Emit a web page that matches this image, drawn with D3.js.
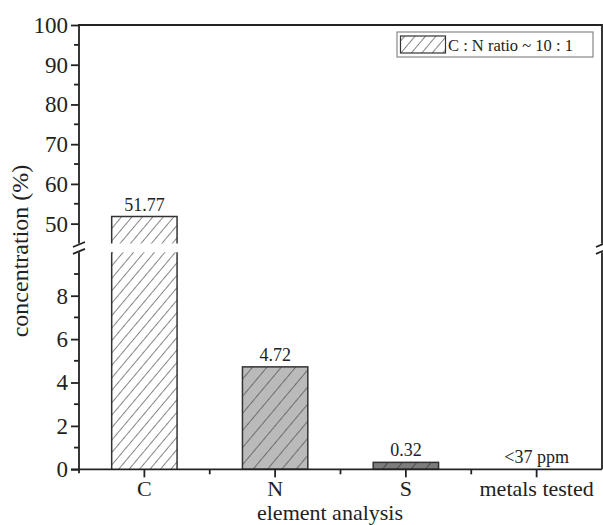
<!DOCTYPE html>
<html>
<head>
<meta charset="utf-8">
<script src="https://cdn.jsdelivr.net/npm/d3@7"></script>
<style>
  body { margin: 0; background: #fff; }
  svg text { font-family: "Liberation Serif", "Times New Roman", serif; fill: #222; }
</style>
</head>
<body>
<div id="chart"></div>
<script>
// data
const categories = ["C", "N", "S", "metals tested"];
const values = [51.77, 4.72, 0.32, null];
const valueLabels = ["51.77", "4.72", "0.32", "<37 ppm"];
const upperTicks = [50, 60, 70, 80, 90, 100];
const upperMinor = [55, 65, 75, 85, 95];
const lowerTicks = [0, 2, 4, 6, 8];
const lowerMinor = [1, 3, 5, 7, 9];
const legendLabel = "C : N ratio ~ 10 : 1";

const width = 603, height = 525;
const plotLeft = 79, plotRight = 602, plotTop = 25, plotBottom = 469.3;
const breakLo = 252.3, breakHi = 243.5;
const ink = "#222";
const serif = "'Liberation Serif', 'Times New Roman', serif";

const svg = d3.select("#chart").append("svg")
    .attr("width", width)
    .attr("height", height)
    .attr("font-family", serif);

// hatch patterns: C white, N light grey, S dark grey
const hatches = [
    { id: "hC", bg: "#fff", line: "#444", gap: 8 },
    { id: "hN", bg: "#bababa", line: "#444", gap: 11 },
    { id: "hS", bg: "#7c7c7c", line: "#333", gap: 11 }
];
const defs = svg.append("defs");
hatches.forEach(h => {
    const p = defs.append("pattern")
        .attr("id", h.id)
        .attr("patternUnits", "userSpaceOnUse")
        .attr("width", h.gap)
        .attr("height", h.gap)
        .attr("patternTransform", "rotate(40)");
    p.append("rect").attr("width", h.gap).attr("height", h.gap).attr("fill", h.bg);
    p.append("line").attr("x1", 0).attr("y1", 0).attr("x2", 0).attr("y2", h.gap)
        .attr("stroke", h.line).attr("stroke-width", 1.3);
});

// scales
const x = d3.scaleBand().domain(categories).range([plotLeft, plotRight]).padding(0);
const yUp = d3.scaleLinear().domain([45, 100]).range([breakHi, plotTop]);
const yLo = d3.scaleLinear().domain([0, 10]).range([plotBottom, breakLo]);
const barW = x.bandwidth() * 0.5;

// bars
values.forEach((v, i) => {
    if (v == null) return;
    const cx = x(categories[i]) + x.bandwidth() / 2;
    const x0 = cx - barW / 2, x1 = cx + barW / 2;
    const fill = `url(#${hatches[i].id})`;
    if (v <= 10) {
        svg.append("rect")
            .attr("x", x0).attr("y", yLo(v))
            .attr("width", barW).attr("height", yLo(0) - yLo(v))
            .attr("fill", fill).attr("stroke", "#333").attr("stroke-width", 1.5);
    } else {
        // lower part up to the break, upper part from the break to the value
        svg.append("rect")
            .attr("x", x0).attr("y", yLo(10))
            .attr("width", barW).attr("height", yLo(0) - yLo(10))
            .attr("fill", fill);
        svg.append("rect")
            .attr("x", x0).attr("y", yUp(v))
            .attr("width", barW).attr("height", yUp(45) - yUp(v))
            .attr("fill", fill);
        const outline = d3.path();
        outline.moveTo(x0, yLo(10)); outline.lineTo(x0, yLo(0));
        outline.moveTo(x1, yLo(10)); outline.lineTo(x1, yLo(0));
        outline.moveTo(x0, yUp(45)); outline.lineTo(x0, yUp(v)); outline.lineTo(x1, yUp(v)); outline.lineTo(x1, yUp(45));
        svg.append("path").attr("d", outline.toString())
            .attr("fill", "none").attr("stroke", "#333").attr("stroke-width", 1.5);
    }
});

// value labels
valueLabels.forEach((t, i) => {
    const v = values[i];
    const yv = v == null ? yLo(0) : (v > 10 ? yUp(v) : yLo(v));
    svg.append("text")
        .attr("x", x(categories[i]) + x.bandwidth() / 2)
        .attr("y", yv - 6)
        .attr("text-anchor", "middle")
        .attr("font-size", 18)
        .text(t);
});

// axis lines (with gap at the break)
const frame = d3.path();
frame.moveTo(plotLeft, plotBottom + 4); frame.lineTo(plotLeft, breakLo);
frame.moveTo(plotLeft, breakHi); frame.lineTo(plotLeft, plotTop);
frame.lineTo(plotRight, plotTop); frame.lineTo(plotRight, breakHi);
frame.moveTo(plotRight, breakLo); frame.lineTo(plotRight, plotBottom);
frame.moveTo(plotLeft - 8, plotBottom); frame.lineTo(plotRight, plotBottom);
svg.append("path").attr("d", frame.toString())
    .attr("fill", "none").attr("stroke", ink).attr("stroke-width", 1.8);

// break marks
[plotLeft, plotRight].forEach(bx => {
    [breakHi + 1, breakLo - 1].forEach(by => {
        svg.append("line")
            .attr("x1", bx - 6).attr("y1", by + 2.5)
            .attr("x2", bx + 6).attr("y2", by - 2.5)
            .attr("stroke", ink).attr("stroke-width", 1.8);
    });
});

// y axes
function yAxis(scale, major, minor) {
    const g = svg.append("g").attr("transform", `translate(${plotLeft},0)`);
    g.call(d3.axisLeft(scale).tickValues(major).tickSize(8).tickPadding(3).tickFormat(d3.format("d")));
    g.attr("font-family", serif);
    g.call(gg => gg.select(".domain").remove());
    g.selectAll(".tick line").attr("stroke", ink).attr("stroke-width", 1.8);
    g.selectAll(".tick text").attr("font-size", 23).attr("fill", ink);
    g.selectAll(".minor").data(minor).enter().append("line")
        .attr("class", "minor")
        .attr("x1", -5).attr("x2", 0)
        .attr("y1", d => scale(d)).attr("y2", d => scale(d))
        .attr("stroke", ink).attr("stroke-width", 1.8);
}
yAxis(yUp, upperTicks, upperMinor);
yAxis(yLo, lowerTicks, lowerMinor);

// x axis
const gx = svg.append("g").attr("transform", `translate(0,${plotBottom})`);
gx.call(d3.axisBottom(x).tickSize(8).tickPadding(3));
gx.attr("font-family", serif);
gx.select(".domain").remove();
gx.selectAll(".tick line").attr("stroke", ink).attr("stroke-width", 1.8);
gx.selectAll(".tick text").attr("font-size", 22).attr("fill", ink);
gx.selectAll(".minor").data(categories.slice(1)).enter().append("line")
    .attr("class", "minor")
    .attr("x1", d => x(d)).attr("x2", d => x(d))
    .attr("y1", 0).attr("y2", 5)
    .attr("stroke", ink).attr("stroke-width", 1.8);

// axis titles
svg.append("text")
    .attr("x", 330).attr("y", 519.5)
    .attr("text-anchor", "middle")
    .attr("font-size", 22)
    .text("element analysis");
svg.append("text")
    .attr("transform", "translate(28,251) rotate(-90)")
    .attr("text-anchor", "middle")
    .attr("font-size", 24)
    .text("concentration (%)");

// legend
const lg = svg.append("g").attr("transform", "translate(397,32)");
lg.append("rect").attr("width", 196).attr("height", 25)
    .attr("fill", "#fff").attr("stroke", "#888").attr("stroke-width", 1.2);
lg.append("rect").attr("x", 3.5).attr("y", 4).attr("width", 45).attr("height", 17)
    .attr("fill", "url(#hC)").attr("stroke", "#333").attr("stroke-width", 1.2);
lg.append("text").attr("x", 51).attr("y", 19)
    .attr("font-size", 16.5)
    .text(legendLabel);
</script>
</body>
</html>
